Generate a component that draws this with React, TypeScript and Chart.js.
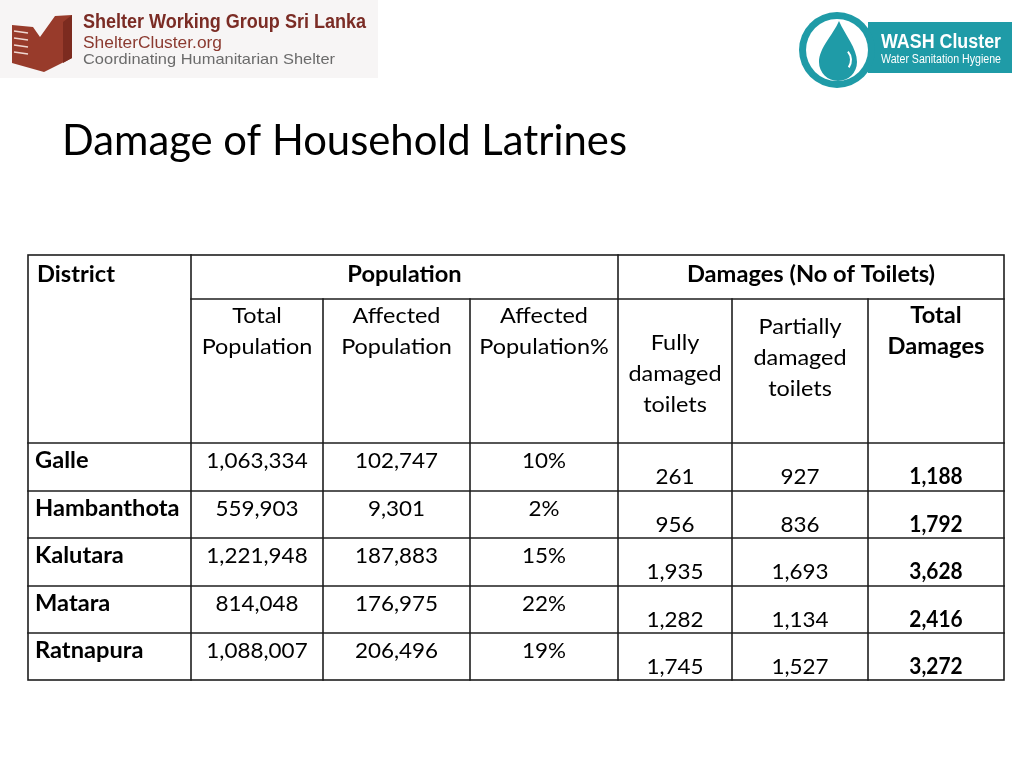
import { useEffect, useRef } from "react";
import { Chart, registerables } from "chart.js";

Chart.register(...registerables);

// ---------- data ----------
const TITLE = "Damage of Household Latrines";
const GROUP_HEADERS = ["District", "Population", "Damages (No of Toilets)"];
const SUB_HEADERS = [
  ["Total", "Population"],
  ["Affected", "Population"],
  ["Affected", "Population%"],
  ["Fully", "damaged", "toilets"],
  ["Partially", "damaged", "toilets"],
  ["Total", "Damages"],
];
const DISTRICTS = ["Galle", "Hambanthota", "Kalutara", "Matara", "Ratnapura"];
const TOTAL_POPULATION = [1063334, 559903, 1221948, 814048, 1088007];
const AFFECTED_POPULATION = [102747, 9301, 187883, 176975, 206496];
const AFFECTED_PERCENT = [10, 2, 15, 22, 19];
const FULLY_DAMAGED = [261, 956, 1935, 1282, 1745];
const PARTIALLY_DAMAGED = [927, 836, 1693, 1134, 1527];
const TOTAL_DAMAGES = [1188, 1792, 3628, 2416, 3272];

// ---------- layout (sizes only) ----------
const COLUMN_WIDTHS = [163, 132, 147, 148, 114, 136, 136];
const ROW_HEIGHTS = [44, 144, 48, 47, 48, 47, 47];
const SUB_HEADER_BASELINE = [24, 24, 24, 51, 35, 24];
const SUB_HEADER_BOLD = [false, false, false, false, false, true];
const LINE_H = 31;
const FONT = 'Lato, "Open Sans", sans-serif';
const LINE_COLOR = "#1e1e1e";
const TEAL = "#1f9ba7";
const WORD_STRETCH = 1.065;
const BOLD_WORD_STRETCH = 1.075;
const NUM_STRETCH = 1.02;
const BOLD_NUM_STRETCH = 0.95;

const cumulative = (a: number[]) => {
  const out = [0];
  a.forEach((v) => out.push(out[out.length - 1] + v));
  return out;
};
const COL_EDGES = cumulative(COLUMN_WIDTHS);
const ROW_EDGES = cumulative(ROW_HEIGHTS);
const fmt = (n: number) => n.toLocaleString("en-US");

function fitText(
  ctx: CanvasRenderingContext2D,
  text: string,
  x: number,
  y: number,
  font: string,
  width: number,
  color: string
) {
  ctx.save();
  ctx.font = font;
  ctx.fillStyle = color;
  ctx.textAlign = "left";
  ctx.textBaseline = "alphabetic";
  const w = ctx.measureText(text).width;
  ctx.translate(x, y);
  ctx.scale(width / w, 1);
  ctx.fillText(text, 0, 0);
  ctx.restore();
}

function cellText(
  ctx: CanvasRenderingContext2D,
  text: string,
  x: number,
  y: number,
  font: string,
  align: CanvasTextAlign,
  stretch: number
) {
  ctx.save();
  ctx.font = font;
  ctx.fillStyle = "#000000";
  ctx.textAlign = align;
  ctx.textBaseline = "alphabetic";
  ctx.translate(x, y);
  ctx.scale(stretch, 1);
  ctx.fillText(text, 0, 0);
  ctx.restore();
}

function drawLogos(ctx: CanvasRenderingContext2D) {
  // Shelter Working Group logo
  ctx.save();
  ctx.fillStyle = "#f7f5f5";
  ctx.fillRect(0, 0, 378, 78);
  ctx.fillStyle = "#983b2b";
  ctx.beginPath();
  ctx.moveTo(12, 25);
  ctx.lineTo(33, 27);
  ctx.lineTo(40, 37);
  ctx.lineTo(55, 16);
  ctx.lineTo(72, 15);
  ctx.lineTo(72, 58);
  ctx.lineTo(44, 72);
  ctx.lineTo(12, 63);
  ctx.closePath();
  ctx.fill();
  ctx.fillStyle = "#7c2b1f";
  ctx.beginPath();
  ctx.moveTo(63, 22);
  ctx.lineTo(72, 15);
  ctx.lineTo(72, 58);
  ctx.lineTo(63, 63);
  ctx.closePath();
  ctx.fill();
  ctx.strokeStyle = "#f0d8d2";
  ctx.lineWidth = 1.5;
  [32, 39, 46, 53].forEach((y) => {
    ctx.beginPath();
    ctx.moveTo(14, y - 1);
    ctx.lineTo(28, y + 1);
    ctx.stroke();
  });
  ctx.restore();
  fitText(ctx, "Shelter Working Group Sri Lanka", 83, 28, 'bold 20px "Liberation Sans", Arial, sans-serif', 283, "#7b2c25");
  fitText(ctx, "ShelterCluster.org", 83, 48, '16px "Liberation Sans", Arial, sans-serif', 139, "#8b3a30");
  fitText(ctx, "Coordinating Humanitarian Shelter", 83, 64, '15px "Liberation Sans", Arial, sans-serif', 252, "#6b6b6b");

  // WASH cluster logo
  ctx.save();
  ctx.fillStyle = TEAL;
  ctx.fillRect(868, 22, 144, 51);
  ctx.beginPath();
  ctx.arc(837, 50, 38, 0, Math.PI * 2);
  ctx.fill();
  ctx.fillStyle = "#ffffff";
  ctx.beginPath();
  ctx.arc(837, 50, 31, 0, Math.PI * 2);
  ctx.fill();
  ctx.fillStyle = TEAL;
  ctx.beginPath();
  ctx.moveTo(839, 21);
  ctx.bezierCurveTo(833, 35, 819, 48, 819, 62);
  ctx.arc(838, 62, 19, Math.PI, 0, true);
  ctx.bezierCurveTo(857, 48, 845, 35, 839, 21);
  ctx.closePath();
  ctx.fill();
  ctx.strokeStyle = "#ffffff";
  ctx.lineWidth = 2;
  ctx.beginPath();
  ctx.arc(838, 60, 13, -0.7, 0.6);
  ctx.stroke();
  ctx.restore();
  fitText(ctx, "WASH Cluster", 881, 48, 'bold 20px "Liberation Sans", Arial, sans-serif', 120, "#ffffff");
  fitText(ctx, "Water Sanitation Hygiene", 881, 63, '12px "Liberation Sans", Arial, sans-serif', 120, "#ffffff");
}

const tablePlugin = {
  id: "latrineTable",
  afterDraw(chart: any) {
    const ctx: CanvasRenderingContext2D = chart.ctx;
    const xs = chart.scales.x;
    const ys = chart.scales.y;
    const cx = COL_EDGES.map((v) => xs.getPixelForValue(v));
    const ry = ROW_EDGES.map((v) => ys.getPixelForValue(v));
    const nCols = COLUMN_WIDTHS.length;
    const nRows = ROW_HEIGHTS.length;

    ctx.save();
    drawLogos(ctx);

    // title
    fitText(ctx, TITLE, 62, 155, `42px ${FONT}`, 565, "#000000");

    // grid
    ctx.strokeStyle = LINE_COLOR;
    ctx.lineWidth = 1.6;
    ctx.lineCap = "square";
    const line = (x1: number, y1: number, x2: number, y2: number) => {
      ctx.beginPath();
      ctx.moveTo(x1, y1);
      ctx.lineTo(x2, y2);
      ctx.stroke();
    };
    ctx.strokeRect(cx[0], ry[0], cx[nCols] - cx[0], ry[nRows] - ry[0]);
    line(cx[1], ry[1], cx[nCols], ry[1]);
    for (let r = 2; r < nRows; r++) line(cx[0], ry[r], cx[nCols], ry[r]);
    line(cx[1], ry[0], cx[1], ry[nRows]);
    line(cx[4], ry[0], cx[4], ry[nRows]);
    [2, 3, 5, 6].forEach((c) => line(cx[c], ry[1], cx[c], ry[nRows]));

    // text
    const bold = `bold 22px ${FONT}`;
    const normal = `22px ${FONT}`;

    cellText(ctx, GROUP_HEADERS[0], cx[0] + 9, ry[0] + 27, bold, "left", BOLD_WORD_STRETCH);
    cellText(ctx, GROUP_HEADERS[1], (cx[1] + cx[4]) / 2, ry[0] + 27, bold, "center", BOLD_WORD_STRETCH);
    cellText(ctx, GROUP_HEADERS[2], (cx[4] + cx[7]) / 2, ry[0] + 27, bold, "center", BOLD_WORD_STRETCH);

    SUB_HEADERS.forEach((lines, i) => {
      const isBold = SUB_HEADER_BOLD[i];
      const mid = (cx[i + 1] + cx[i + 2]) / 2;
      lines.forEach((t, k) =>
        cellText(
          ctx,
          t,
          mid,
          ry[1] + SUB_HEADER_BASELINE[i] + k * LINE_H,
          isBold ? bold : normal,
          "center",
          isBold ? BOLD_WORD_STRETCH : WORD_STRETCH
        )
      );
    });

    const colMid = (c: number) => (cx[c] + cx[c + 1]) / 2;
    DISTRICTS.forEach((d, i) => {
      const top = ry[i + 2];
      cellText(ctx, d, cx[0] + 7, top + 25, bold, "left", BOLD_WORD_STRETCH);
      cellText(ctx, fmt(TOTAL_POPULATION[i]), colMid(1), top + 25, normal, "center", NUM_STRETCH);
      cellText(ctx, fmt(AFFECTED_POPULATION[i]), colMid(2), top + 25, normal, "center", NUM_STRETCH);
      cellText(ctx, AFFECTED_PERCENT[i] + "%", colMid(3), top + 25, normal, "center", NUM_STRETCH);
      cellText(ctx, fmt(FULLY_DAMAGED[i]), colMid(4), top + 41, normal, "center", NUM_STRETCH);
      cellText(ctx, fmt(PARTIALLY_DAMAGED[i]), colMid(5), top + 41, normal, "center", NUM_STRETCH);
      cellText(ctx, fmt(TOTAL_DAMAGES[i]), colMid(6), top + 41, bold, "center", BOLD_NUM_STRETCH);
    });
    ctx.restore();
  },
};

export default function App() {
  const ref = useRef<HTMLCanvasElement>(null);
  useEffect(() => {
    if (!ref.current) return;
    const chart = new Chart(ref.current, {
      type: "scatter",
      data: { datasets: [{ data: [] }] },
      options: {
        responsive: false,
        animation: false,
        devicePixelRatio: 1,
        layout: { padding: { left: 28, right: 20, top: 255, bottom: 88 } },
        plugins: { legend: { display: false }, tooltip: { enabled: false }, title: { display: false } },
        scales: {
          x: { type: "linear", min: 0, max: COL_EDGES[COL_EDGES.length - 1], display: false },
          y: { type: "linear", min: 0, max: ROW_EDGES[ROW_EDGES.length - 1], reverse: true, display: false },
        },
      },
      plugins: [tablePlugin],
    });
    return () => chart.destroy();
  }, []);
  return (
    <div style={{ position: "absolute", left: 0, top: 0, width: 1024, height: 768, background: "#ffffff" }}>
      <canvas ref={ref} width={1024} height={768} />
    </div>
  );
}
